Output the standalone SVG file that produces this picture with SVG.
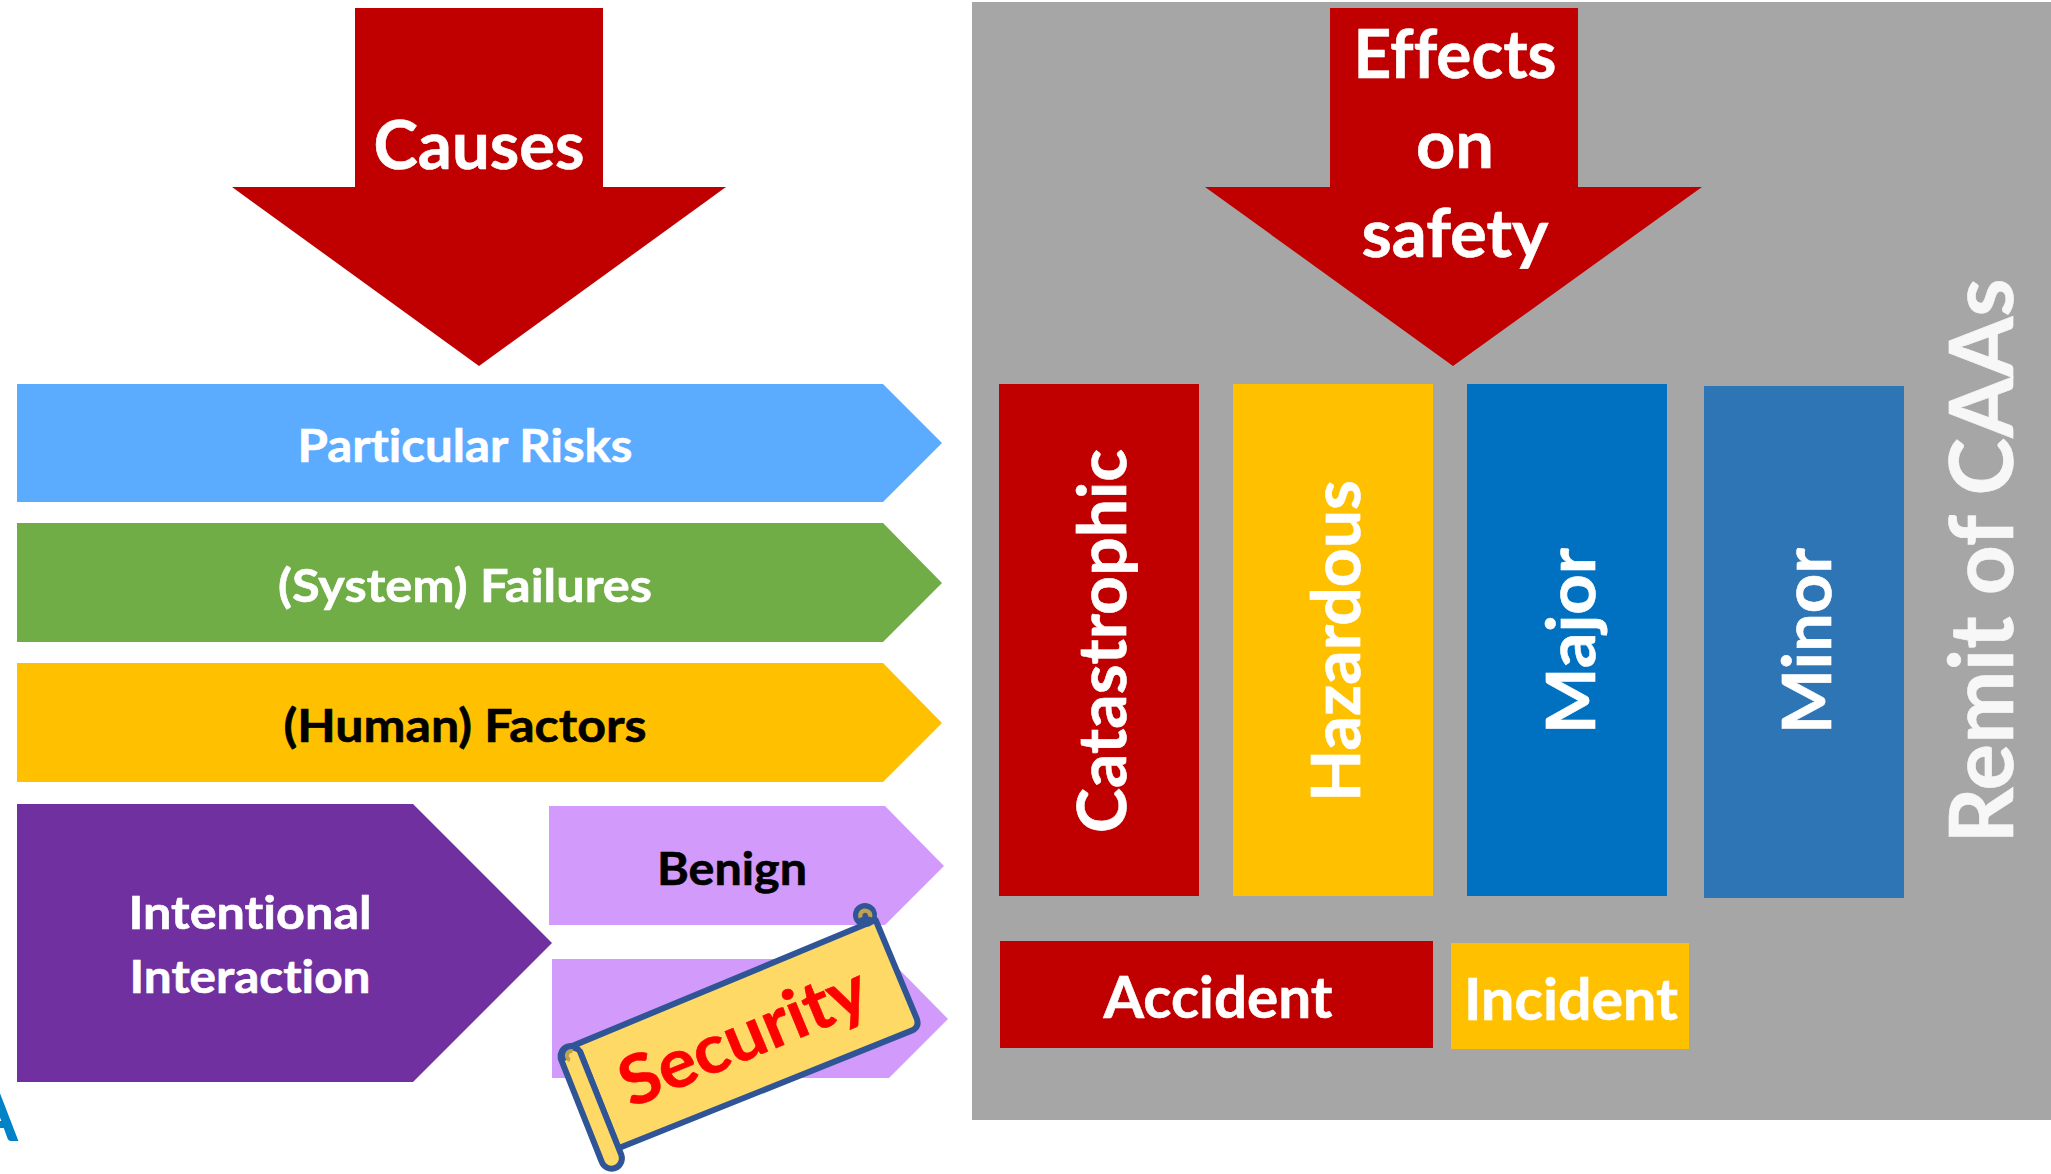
<svg xmlns="http://www.w3.org/2000/svg" width="2051" height="1174" viewBox="0 0 2051 1174">
<style>
text{font-family:"Lato","Carlito","Open Sans",sans-serif;font-weight:700;text-anchor:middle;font-variant-ligatures:none;stroke-width:.6;paint-order:stroke}
.w{fill:#fff;stroke:#fff}.k{fill:#000;stroke:#000}
.s{fill:#FFD966;stroke:#2F5597;stroke-width:18;stroke-linejoin:round}
.c{fill:none;stroke:#BFA14E}
</style>
<rect width="2051" height="1174" fill="#fff"/>
<rect id="remit-bg" x="972" y="2" width="1079" height="1118" fill="#A6A6A6"/>
<g id="logo-fragment"><text x="18" y="1141" font-size="72" fill="#0082C8" style="text-anchor:end">A</text></g>
<g id="causes"><polygon points="355,8 603,8 603,187 726,187 479,366 232,187 355,187" fill="#C00000"/><text class="w" x="479" y="169" font-size="66" textLength="211" lengthAdjust="spacingAndGlyphs">Causes</text></g>
<g id="effects"><polygon points="1330,8 1578,8 1578,187 1702,187 1453,366 1205,187 1330,187" fill="#C00000"/>
<text class="w" x="1455" y="78" font-size="66" textLength="203" lengthAdjust="spacingAndGlyphs">Effects</text><text class="w" x="1455" y="168" font-size="66" textLength="78" lengthAdjust="spacingAndGlyphs">on</text><text class="w" x="1455" y="257" font-size="66" textLength="187" lengthAdjust="spacingAndGlyphs">safety</text></g>
<g id="particular-risks"><polygon points="17,384 883,384 942,443 883,502 17,502" fill="#5BACFF"/><text class="w" x="465" y="462" font-size="46" textLength="335" lengthAdjust="spacingAndGlyphs">Particular Risks</text></g>
<g id="system-failures"><polygon points="17,523 883,523 942,583 883,642 17,642" fill="#70AD47"/><text class="w" x="465" y="602" font-size="46" textLength="374" lengthAdjust="spacingAndGlyphs">(System) Failures</text></g>
<g id="human-factors"><polygon points="17,663 883,663 942,723 883,782 17,782" fill="#FFC000"/><text class="k" x="465" y="742" font-size="46" textLength="363" lengthAdjust="spacingAndGlyphs">(Human) Factors</text></g>
<g id="intentional-interaction"><polygon points="17,804 413,804 552,943 413,1082 17,1082" fill="#7030A0"/><text class="w" x="250" y="929" font-size="46" textLength="243" lengthAdjust="spacingAndGlyphs">Intentional</text><text class="w" x="250" y="993" font-size="46" textLength="241" lengthAdjust="spacingAndGlyphs">Interaction</text></g>
<g id="benign"><polygon points="549,806 885,806 944,866 885,925 549,925" fill="#D29BFB"/><text class="k" x="732" y="885" font-size="46" textLength="150" lengthAdjust="spacingAndGlyphs">Benign</text></g>
<g id="malicious"><polygon points="552,959 889,959 948,1019 889,1078 552,1078" fill="#D29BFB"/></g>
<g id="security-scroll">
<g transform="translate(530,780) scale(.3333)">
<path class="s" d="M130 797L1037 420L1160 715Q1170 742 1145 752L265 1105L150 815Z"/>
<circle cx="1005" cy="405" r="36" fill="#2F5597"/>
<path d="M992 413A15 15 0 1 1 1020 411" class="c" stroke-width="13"/>
<path class="s" d="M92 835L215 1145A31 31 0 0 0 274 1125L150 815A31 31 0 0 0 92 835Z"/>
<path d="M106 842A24 24 0 0 1 143 812" fill="none" stroke="#2F5597" stroke-width="12"/>
<path d="M120 840A13 13 0 0 1 128 814" class="c" stroke-width="12"/>
</g>
<text transform="translate(752,1058) rotate(-22.5)" font-size="68" fill="#FF0000" stroke="#FF0000" textLength="262" lengthAdjust="spacingAndGlyphs">Security</text>
</g>
<g id="catastrophic"><rect x="999" y="384" width="200" height="512" fill="#C00000"/><text class="w" transform="translate(1126,641) rotate(-90)" font-size="66" textLength="384" lengthAdjust="spacingAndGlyphs">Catastrophic</text></g>
<g id="hazardous"><rect x="1233" y="384" width="200" height="512" fill="#FFC000"/><text class="w" transform="translate(1360,641) rotate(-90)" font-size="66" textLength="322" lengthAdjust="spacingAndGlyphs">Hazardous</text></g>
<g id="major"><rect x="1467" y="384" width="200" height="512" fill="#0070C0"/><text class="w" transform="translate(1595,641) rotate(-90)" font-size="66" textLength="186" lengthAdjust="spacingAndGlyphs">Major</text></g>
<g id="minor"><rect x="1704" y="386" width="200" height="512" fill="#2E75B6"/><text class="w" transform="translate(1831,641) rotate(-90)" font-size="66" textLength="186" lengthAdjust="spacingAndGlyphs">Minor</text></g>
<g id="accident"><rect x="1000" y="941" width="433" height="107" fill="#C00000"/><text class="w" x="1218" y="1018" font-size="58" textLength="229" lengthAdjust="spacingAndGlyphs">Accident</text></g>
<g id="incident"><rect x="1451" y="943" width="238" height="106" fill="#FFC000"/><text class="w" x="1571" y="1020" font-size="58" textLength="214" lengthAdjust="spacingAndGlyphs">Incident</text></g>
<g id="remit"><text transform="translate(2013,561) rotate(-90)" font-size="88" fill="#F7F7F7" stroke="#F7F7F7" textLength="565" lengthAdjust="spacingAndGlyphs">Remit of CAAs</text></g>
</svg>
